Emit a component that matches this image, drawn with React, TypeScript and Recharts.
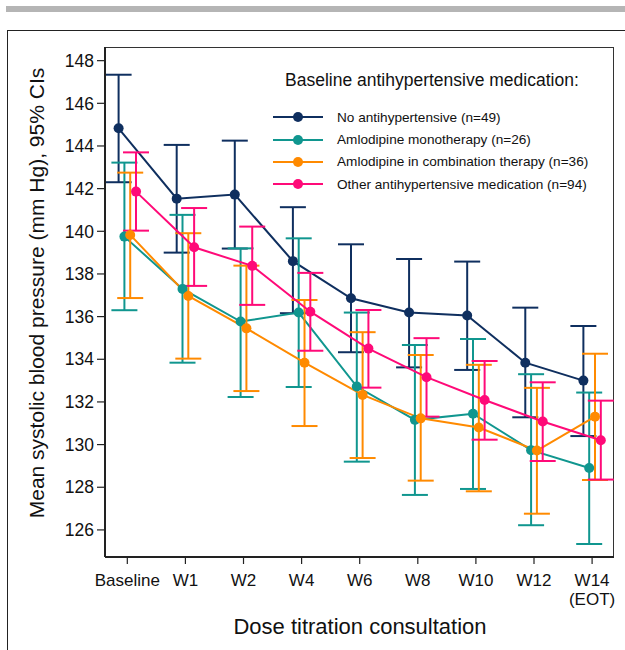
import React from "react";
import { ComposedChart, Line, ErrorBar, XAxis, YAxis, Legend, Label } from "recharts";

const VISITS = ["Baseline", "W1", "W2", "W4", "W6", "W8", "W10", "W12", "W14"];
const VISIT_SUB = ["", "", "", "", "", "", "", "", "(EOT)"];
const Y_TICKS = [126, 128, 130, 132, 134, 136, 138, 140, 142, 144, 146, 148];

const NONE_MEAN = [144.83, 141.53, 141.72, 138.6, 136.86, 136.19, 136.05, 133.84, 133.0];
const NONE_LOW = [142.3, 139.0, 139.19, 136.16, 134.33, 133.62, 133.5, 131.28, 130.4];
const NONE_HIGH = [147.34, 144.05, 144.25, 141.13, 139.39, 138.7, 138.58, 136.42, 135.56];

const MONO_MEAN = [139.75, 137.3, 135.77, 136.19, 132.72, 131.16, 131.45, 129.74, 128.9];
const MONO_LOW = [136.3, 133.84, 132.23, 132.7, 129.2, 127.64, 127.92, 126.22, 125.34];
const MONO_HIGH = [143.22, 140.77, 139.2, 139.67, 136.19, 134.67, 134.95, 133.3, 132.44];

const COMBO_MEAN = [139.83, 136.97, 135.45, 133.84, 132.33, 131.23, 130.8, 129.72, 131.31];
const COMBO_LOW = [136.87, 134.03, 132.51, 130.87, 129.37, 128.31, 127.81, 126.76, 128.34];
const COMBO_HIGH = [142.75, 139.91, 138.39, 136.78, 135.27, 134.2, 133.74, 132.66, 134.26];

const OTHER_MEAN = [141.86, 139.25, 138.38, 136.23, 134.5, 133.16, 132.09, 131.08, 130.2];
const OTHER_LOW = [140.03, 137.44, 136.55, 134.4, 132.67, 131.31, 130.23, 129.23, 128.36];
const OTHER_HIGH = [143.7, 141.09, 140.22, 138.05, 136.31, 134.99, 133.92, 132.92, 132.06];

const SERIES = [
  { name: "No antihypertensive (n=49)", color: "#0f2f5f", mean: NONE_MEAN, low: NONE_LOW, high: NONE_HIGH },
  { name: "Amlodipine monotherapy (n=26)", color: "#10968f", mean: MONO_MEAN, low: MONO_LOW, high: MONO_HIGH },
  { name: "Amlodipine in combination therapy (n=36)", color: "#ff8a00", mean: COMBO_MEAN, low: COMBO_LOW, high: COMBO_HIGH },
  { name: "Other antihypertensive medication (n=94)", color: "#ff0a78", mean: OTHER_MEAN, low: OTHER_LOW, high: OTHER_HIGH },
];

// small horizontal dodge so the CIs don't sit on top of each other
const DODGE = 0.1;

const FONT = "'Liberation Sans', Arial, Helvetica, sans-serif";
const INK = "#111";

function buildRows(s: (typeof SERIES)[number], k: number) {
  const shift = (k - (SERIES.length - 1) / 2) * DODGE;
  return s.mean.map((m, i) => ({
    x: i + shift,
    mean: m,
    err: [m - s.low[i], s.high[i] - m],
  }));
}

function VisitTick({ x, y, payload }: { x?: number; y?: number; payload?: { value: number } }) {
  const i = Math.round(payload?.value ?? 0);
  return (
    <g>
      <text x={x} y={y} dy={20} textAnchor="middle" fontSize={17} fill={INK} fontFamily={FONT}>
        {VISITS[i]}
      </text>
      {VISIT_SUB[i] && (
        <text x={x} y={y} dy={39} textAnchor="middle" fontSize={17} fill={INK} fontFamily={FONT}>
          {VISIT_SUB[i]}
        </text>
      )}
    </g>
  );
}

function LegendBox() {
  return (
    <div style={{ fontFamily: FONT, color: INK, textAlign: "left" }}>
      <div style={{ fontSize: 17.5, marginLeft: 15, marginBottom: 15 }}>
        Baseline antihypertensive medication:
      </div>
      {SERIES.map((s) => (
        <div key={s.name} style={{ display: "flex", alignItems: "center", height: 22.4 }}>
          <svg width={67} height={12}>
            <line x1={3} y1={6} x2={53} y2={6} stroke={s.color} strokeWidth={2} />
            <circle cx={28} cy={6} r={5} fill={s.color} />
          </svg>
          <span style={{ fontSize: 13.6 }}>{s.name}</span>
        </div>
      ))}
    </div>
  );
}

export default function App() {
  return (
    <div
      style={{
        position: "absolute",
        left: 0,
        top: 0,
        width: 625,
        height: 650,
        overflow: "hidden",
        background: "#fff",
      }}
    >
      <div style={{ position: "absolute", left: 6, top: 6, width: 619, height: 6, background: "#b5b5b5" }} />
      <div
        style={{
          position: "absolute",
          left: 7,
          top: 30,
          width: 700,
          height: 700,
          border: "1.5px solid #222",
        }}
      />
      <div
        style={{
          position: "absolute",
          left: 105,
          top: 47,
          width: 509,
          height: 510,
          borderTop: "1.5px solid #333",
          borderRight: "1.5px solid #333",
          boxSizing: "border-box",
        }}
      />
      <div style={{ position: "absolute", left: 0, top: 0 }}>
        <ComposedChart width={625} height={650} margin={{ top: 47, right: 11, bottom: 0, left: 0 }}>
          <XAxis
            dataKey="x"
            type="number"
            domain={[-0.384, 8.377]}
            ticks={VISITS.map((_, i) => i)}
            allowDataOverflow
            height={93}
            tickSize={7}
            tickMargin={2}
            tickLine={{ stroke: "#222", strokeWidth: 1.2 }}
            axisLine={{ stroke: "#222", strokeWidth: 2 }}
            tick={<VisitTick />}
          >
            <Label
              content={() => (
                <text x={360} y={634} textAnchor="middle" fontSize={22} fill={INK} fontFamily={FONT}>
                  Dose titration consultation
                </text>
              )}
            />
          </XAxis>
          <YAxis
            type="number"
            domain={[124.73, 148.64]}
            ticks={Y_TICKS}
            allowDataOverflow
            width={105}
            tickSize={8}
            tickMargin={3}
            tickLine={{ stroke: "#222", strokeWidth: 1.2 }}
            axisLine={{ stroke: "#222", strokeWidth: 2 }}
            tick={{ fontSize: 17.5, fill: INK, fontFamily: FONT }}
          >
            <Label
              content={() => (
                <text
                  x={36}
                  y={293}
                  transform="rotate(-90 36 293)"
                  textAnchor="middle"
                  dominantBaseline="central"
                  fontSize={21}
                  fill={INK}
                  fontFamily={FONT}
                >
                  Mean systolic blood pressure (mm Hg), 95% CIs
                </text>
              )}
            />
          </YAxis>
          <Legend
            layout="horizontal"
            verticalAlign="middle"
            align="center"
            content={() => <LegendBox />}
            wrapperStyle={{ position: "absolute", left: 270, top: 70, width: 340 }}
          />
          {SERIES.map((s, k) => (
            <Line
              key={s.name}
              name={s.name}
              data={buildRows(s, k)}
              dataKey="mean"
              type="linear"
              stroke={s.color}
              strokeWidth={2}
              dot={{ r: 5, fill: s.color, stroke: s.color, strokeWidth: 0 }}
              activeDot={false}
              isAnimationActive={false}
            >
              <ErrorBar dataKey="err" direction="y" width={13} stroke={s.color} strokeWidth={2} />
            </Line>
          ))}
        </ComposedChart>
      </div>
    </div>
  );
}
